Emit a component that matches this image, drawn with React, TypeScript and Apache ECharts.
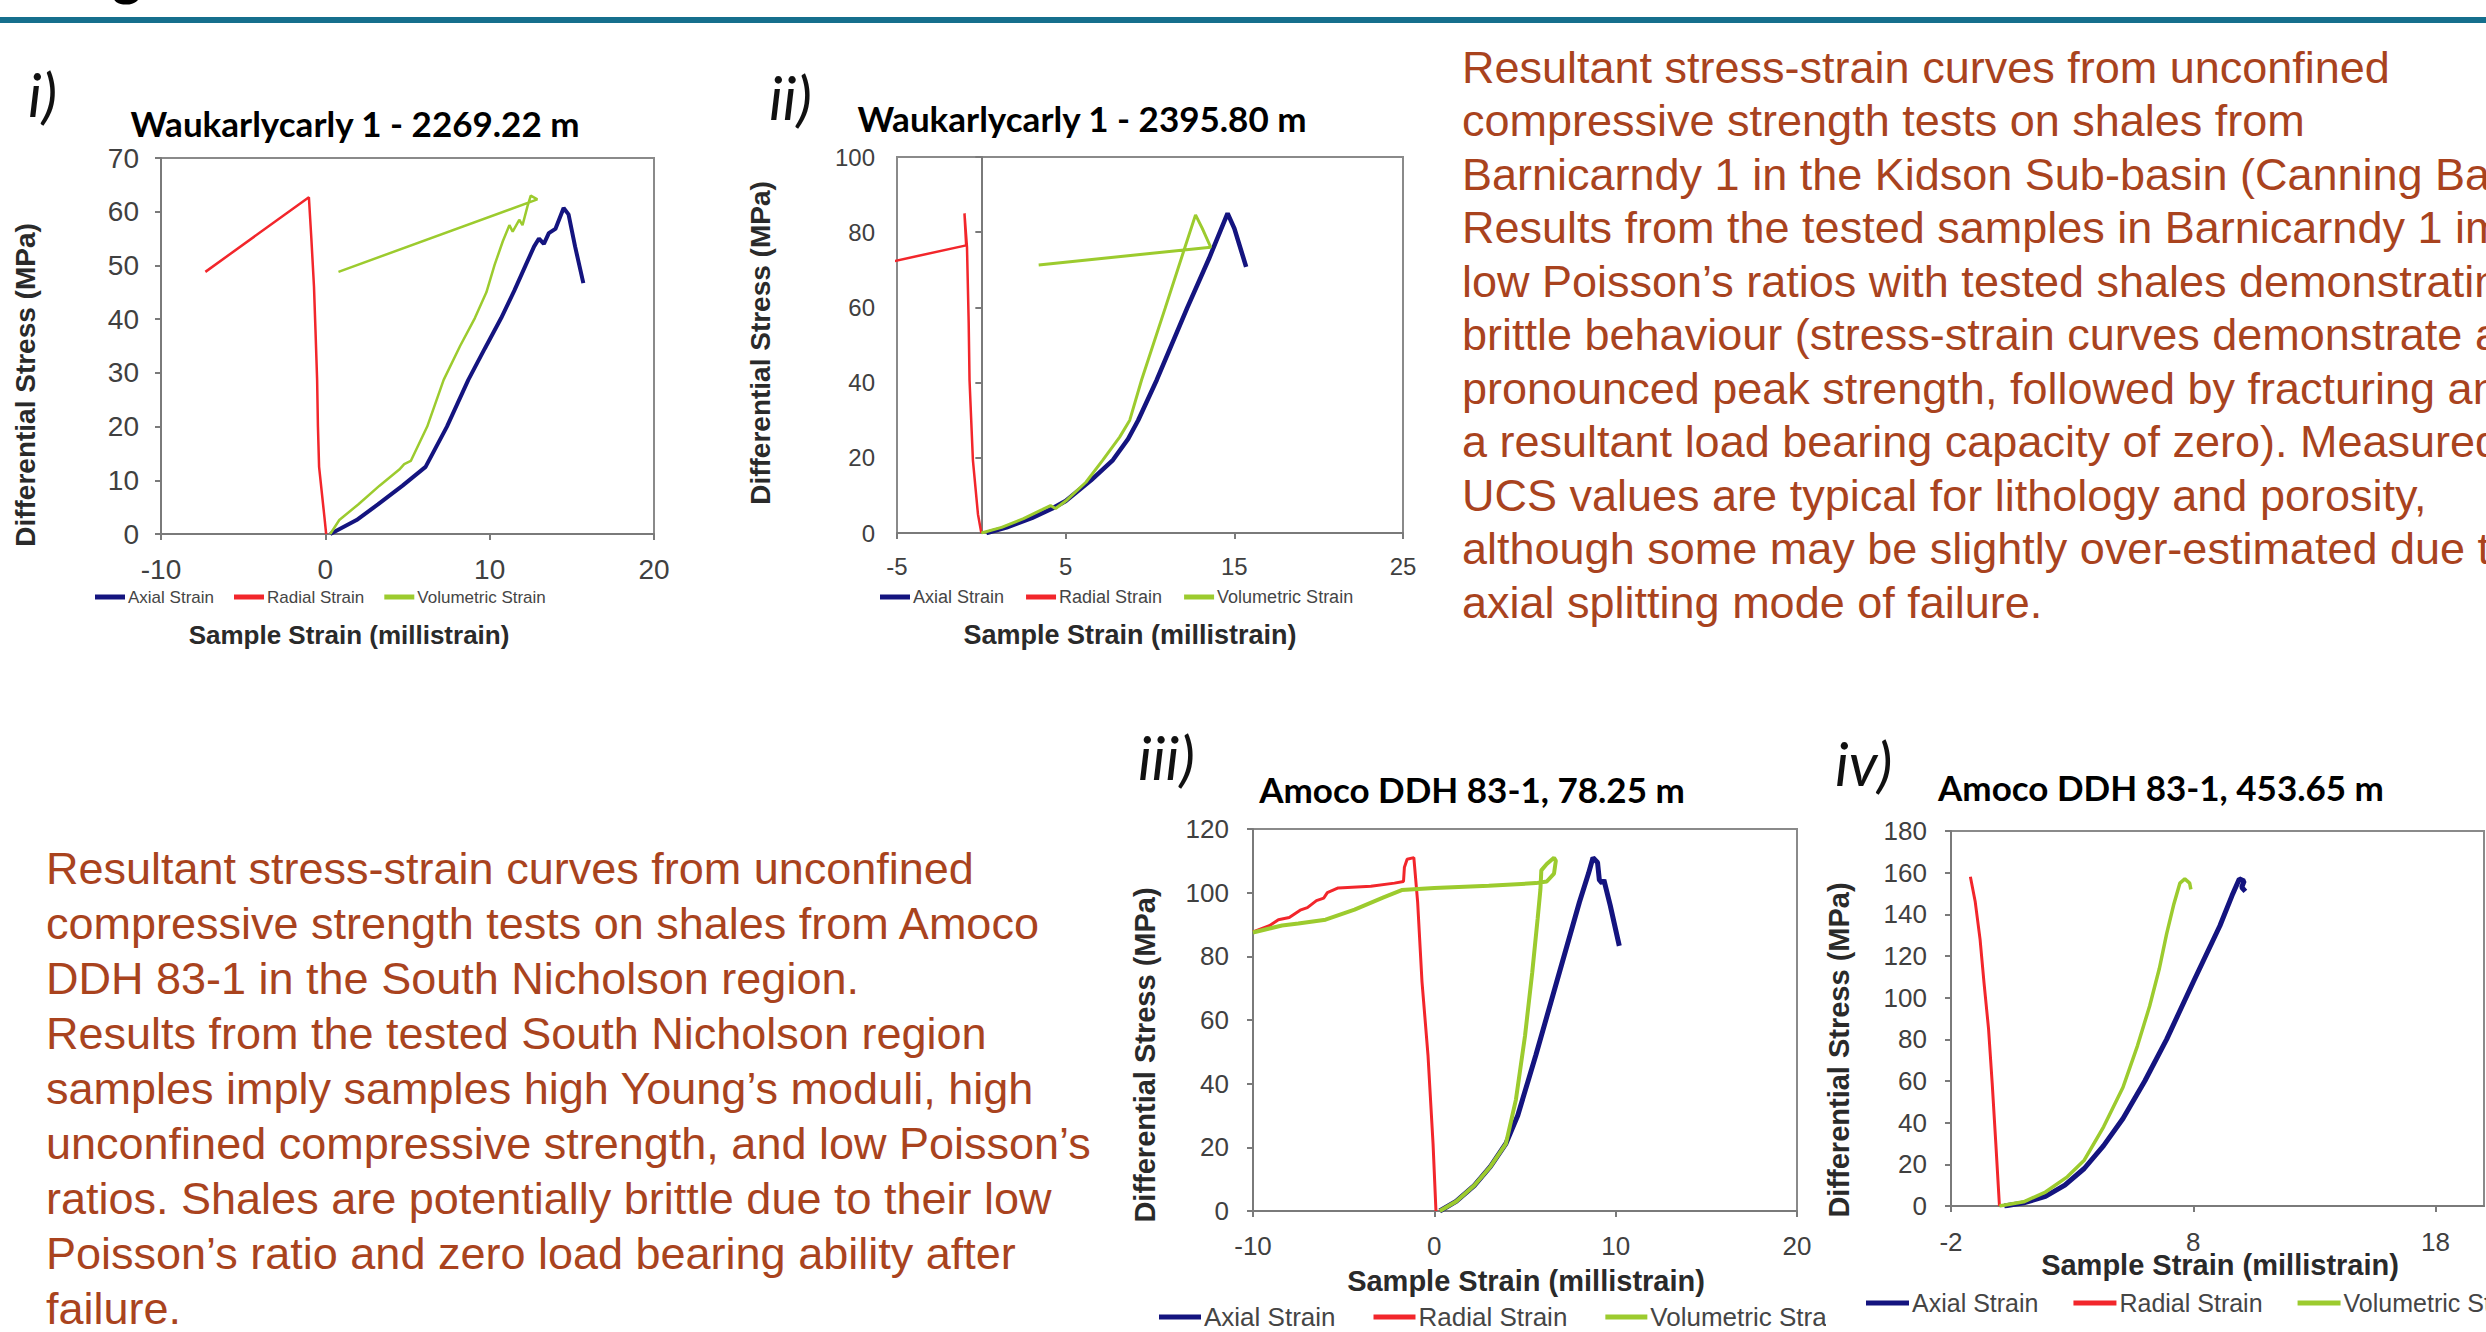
import React, { useEffect, useRef } from "react";
import * as echarts from "echarts";

// ---------- data ----------
const SERIES_NAMES = ["Axial Strain", "Radial Strain", "Volumetric Strain"];
const PANEL_TAGS = ["i)", "ii)", "iii)", "iv)"];
const PANEL_TITLES = [
  "Waukarlycarly 1 - 2269.22 m",
  "Waukarlycarly 1 - 2395.80 m",
  "Amoco DDH 83-1, 78.25 m",
  "Amoco DDH 83-1, 453.65 m",
];
const X_NAME = "Sample Strain (millistrain)";
const Y_NAME = "Differential Stress (MPa)";
const X_MIN = [-10, -5, -10, -2];
const X_MAX = [20, 25, 20, 20];
const Y_MAX = [70, 100, 120, 180];
const Y_STEP = [10, 20, 20, 20];
const X_TICKS = [
  [-10, 0, 10, 20],
  [-5, 5, 15, 25],
  [-10, 0, 10, 20],
  [-2, 8, 18],
];

// panel i
const axialI = [[0.3,0],[1.9,2.6],[3.2,5.5],[4.7,9],[6.1,12.5],[7.4,20],[8.7,28.7],[9.7,34.5],[10.7,40.2],[11.5,45.3],[12.2,50.1],[12.7,53.5],[13.0,55],[13.3,54],[13.6,56],[14.0,56.8],[14.5,60.7],[14.8,59.5],[15.2,53.5],[15.7,46.7]];
const radialI = [[0.05,0],[-0.05,3],[-0.38,12.5],[-0.45,20],[-0.5,28.7],[-0.6,38],[-0.69,46],[-0.85,55],[-1.0,62.7],[-7.3,48.8]];
const volumetricI = [[0.3,0],[0.85,2.6],[2.0,5.5],[3.3,9],[4.5,12],[4.8,13],[5.2,13.6],[6.2,20],[7.2,28.7],[8.2,35],[9.1,40.2],[9.8,45],[10.3,50.1],[10.8,54.5],[11.2,57.5],[11.4,56.3],[11.8,58.5],[12.0,57.5],[12.3,61],[12.5,63],[12.9,62.3],[0.8,48.8]];

// panel ii
const axialII = [[0.3,0],[1.5,1.5],[3,4],[4.2,6.5],[5.0,8.5],[6.5,14],[7.8,19.4],[8.7,25],[9.3,30],[10.4,40.7],[12.2,59.8],[13.5,73],[14.6,85],[15.0,81],[15.7,70.8]];
const radialII = [[0,0],[-0.2,5],[-0.5,19.4],[-0.6,30],[-0.7,40.7],[-0.75,56],[-0.85,76],[-1.0,85],[-0.9,76.5],[-6,71.5]];
const volumetricII = [[0,0],[1.2,1.5],[2.5,3.8],[3.6,6.2],[4.1,7.3],[4.4,6.5],[5.0,8.5],[6.2,13.5],[7.2,19.4],[8.2,25.5],[8.8,30],[9.5,40.7],[10.9,59.8],[12.0,75],[12.7,84.6],[13.1,81],[13.6,76],[3.4,71.3]];

// panel iii
const axialIII = [[0.3,0],[1.2,3],[2.2,8],[3.1,14],[3.95,21.2],[4.6,30],[5.6,49],[6.75,72],[8.0,97],[8.5,106],[8.75,111],[9.0,109.5],[9.1,104],[9.25,103],[9.35,104],[9.7,96],[10.2,83.3]];
const radialIII = [[0.09,0],[-0.07,21],[-0.35,49],[-0.68,72],[-0.92,97],[-1.13,111],[-1.5,110.5],[-1.65,108],[-1.7,103.5],[-2.2,103],[-3.5,102],[-5.3,101.5],[-5.9,100],[-6.1,98.3],[-6.5,97.5],[-7.0,95.3],[-7.4,94.5],[-8.0,92.2],[-8.6,91.5],[-9.1,89.6],[-10,87.7]];
const volumetricIII = [[0.3,0],[1.2,3],[2.2,8],[3.1,14],[3.95,21.2],[4.5,35],[5.0,55],[5.4,75],[5.7,92],[5.85,101],[5.9,107],[6.2,109],[6.6,111],[6.7,110],[6.6,106],[6.2,103.5],[5.6,103],[3,102.2],[0,101.5],[-1.8,100.8],[-2.8,98.5],[-4.4,94.7],[-6.0,91.5],[-7.5,90.3],[-8.4,89.7],[-10,87.5]];

// panel iv
const axialIV = [[0.2,0],[1,1.5],[1.9,4.6],[2.7,10],[3.5,18],[4.3,29],[5.1,42],[6.0,60],[6.9,80],[8.0,107.5],[9.1,134.5],[9.6,149],[9.9,157],[10.1,156],[10.0,153],[10.15,151]];
const radialIV = [[0,0],[-0.15,30],[-0.3,59],[-0.45,85],[-0.64,107.5],[-0.8,128],[-1.0,146],[-1.2,158]];
const volumetricIV = [[0,0],[1,2],[1.9,6.7],[2.8,14],[3.5,22],[4.3,38],[5.1,57],[5.7,77],[6.2,96],[6.6,114],[6.9,130.6],[7.2,145],[7.45,155],[7.65,157],[7.85,155],[7.9,152]];

const PANEL_DATA = [
  [axialI, radialI, volumetricI],
  [axialII, radialII, volumetricII],
  [axialIII, radialIII, volumetricIII],
  [axialIV, radialIV, volumetricIV],
];

const TOP_TEXT = [
  "Resultant stress-strain curves from unconfined",
  "compressive strength tests on shales from",
  "Barnicarndy 1 in the Kidson Sub-basin (Canning Basin).",
  "Results from the tested samples in Barnicarndy 1 imply",
  "low Poisson\u2019s ratios with tested shales demonstrating",
  "brittle behaviour (stress-strain curves demonstrate a",
  "pronounced peak strength, followed by fracturing and",
  "a resultant load bearing capacity of zero). Measured",
  "UCS values are typical for lithology and porosity,",
  "although some may be slightly over-estimated due to",
  "axial splitting mode of failure.",
];
const BOTTOM_TEXT = [
  "Resultant stress-strain curves from unconfined",
  "compressive strength tests on shales from Amoco",
  "DDH 83-1 in the South Nicholson region.",
  "Results from the tested South Nicholson region",
  "samples imply samples high Young\u2019s moduli, high",
  "unconfined compressive strength, and low Poisson\u2019s",
  "ratios. Shales are potentially brittle due to their low",
  "Poisson\u2019s ratio and zero load bearing ability after",
  "failure.",
];

// ---------- layout / style ----------
const COLORS = ["#14147f", "#f2262b", "#9ccb2e"];
const TEXT_RED = "#a9431e";
const SANS = '"Liberation Sans", Arial, sans-serif';
const TITLE_FONT = 'Lato, "Open Sans", sans-serif';

const LAYOUT = [
  { grid: { left: 161, top: 158, width: 493, height: 376 }, tick: 28, yMargin: 22, xMargin: 21, widths: [4, 2.5, 2.5],
    legend: { left: 95, y: 597, font: 17, iw: 30, gap: 20 }, xName: { x: 349, y: 635, font: 26 },
    yName: { x: 25, y: 385, font: 28 }, tag: { x: 28, y: 94 }, title: { x: 355, y: 123 } },
  { grid: { left: 897, top: 157, width: 506, height: 376 }, tick: 24, yMargin: 22, xMargin: 21, widths: [4.5, 2.5, 3],
    legend: { left: 880, y: 597, font: 18, iw: 30, gap: 22 }, xName: { x: 1130, y: 635, font: 27 },
    yName: { x: 760, y: 343, font: 28 }, tag: { x: 769, y: 97 }, title: { x: 1082, y: 118 } },
  { grid: { left: 1253, top: 829, width: 544, height: 382 }, tick: 26, yMargin: 24, xMargin: 22, widths: [5, 3, 4],
    legend: { left: 1159, y: 1317, font: 26, iw: 42, gap: 38 }, xName: { x: 1526, y: 1281, font: 29 },
    yName: { x: 1145, y: 1055, font: 29 }, tag: { x: 1138, y: 757 }, title: { x: 1472, y: 789 } },
  { grid: { left: 1951, top: 831, width: 533, height: 375 }, tick: 26, yMargin: 24, xMargin: 23, widths: [5, 3, 3.5],
    legend: { left: 1866, y: 1303, font: 25, iw: 43, gap: 35 }, xName: { x: 2220, y: 1265, font: 29 },
    yName: { x: 1839, y: 1050, font: 29 }, tag: { x: 1835, y: 763 }, title: { x: 2161, y: 787 } },
];

function txt(x: number, y: number, text: string, font: string, fill: string, align = "left", extra: any = {}) {
  return {
    type: "text",
    x,
    y,
    ...extra,
    style: { text, font, fill, align, textAlign: align, verticalAlign: "middle", textVerticalAlign: "middle" },
  };
}

function buildOption() {
  const grid: any[] = [];
  const xAxis: any[] = [];
  const yAxis: any[] = [];
  const series: any[] = [];
  const legend: any[] = [];
  const graphic: any[] = [];

  LAYOUT.forEach((L, p) => {
    grid.push({ ...L.grid, show: true, borderColor: "#8a8a8a", borderWidth: 2, backgroundColor: "#ffffff" });
    xAxis.push({
      type: "value",
      gridIndex: p,
      min: X_MIN[p],
      max: X_MAX[p],
      axisLine: { show: true, onZero: false, lineStyle: { color: "#7a7a7a", width: 2 } },
      axisTick: { show: true, customValues: X_TICKS[p], length: 6, lineStyle: { color: "#7a7a7a", width: 2 } },
      axisLabel: { customValues: X_TICKS[p], margin: L.xMargin, fontSize: L.tick, color: "#404040", fontFamily: SANS },
      splitLine: { show: false },
    });
    yAxis.push({
      type: "value",
      gridIndex: p,
      min: 0,
      max: Y_MAX[p],
      interval: Y_STEP[p],
      axisLine: { show: true, onZero: p === 1, lineStyle: { color: "#7a7a7a", width: 2 } },
      axisTick: { show: true, length: 6, lineStyle: { color: "#7a7a7a", width: 2 } },
      axisLabel: { margin: L.yMargin, fontSize: L.tick, color: "#404040", fontFamily: SANS },
      splitLine: { show: false },
    });
    PANEL_DATA[p].forEach((data, s) => {
      series.push({
        type: "line",
        name: SERIES_NAMES[s],
        xAxisIndex: p,
        yAxisIndex: p,
        data,
        showSymbol: false,
        symbol: "none",
        clip: true,
        z: s === 0 ? 3 : 4,
        lineStyle: { color: COLORS[s], width: L.widths[s] },
        itemStyle: { color: COLORS[s] },
      });
    });
    legend.push({
      left: L.legend.left,
      top: L.legend.y - L.legend.font / 2,
      width: 1200,
      padding: 0,
      orient: "horizontal",
      icon: "rect",
      itemWidth: L.legend.iw,
      itemHeight: 5,
      itemGap: L.legend.gap,
      selectedMode: false,
      data: SERIES_NAMES,
      textStyle: { fontSize: L.legend.font, color: "#454545", fontFamily: SANS, padding: [0, 0, 0, -2] },
    });

    graphic.push(txt(L.tag.x, L.tag.y, PANEL_TAGS[p], `italic 60px ${TITLE_FONT}`, "#111111"));
    graphic.push(txt(L.title.x, L.title.y, PANEL_TITLES[p], `bold 35px ${TITLE_FONT}`, "#000000", "center"));
    graphic.push(txt(L.xName.x, L.xName.y, X_NAME, `bold ${L.xName.font}px ${SANS}`, "#2a2a2a", "center"));
    graphic.push(txt(L.yName.x, L.yName.y, Y_NAME, `bold ${L.yName.font}px ${SANS}`, "#2a2a2a", "center", { rotation: Math.PI / 2 }));
  });

  // slide decorations
  graphic.push({ type: "rect", shape: { x: 0, y: 17, width: 2486, height: 6 }, style: { fill: "#156f8d" } });
  graphic.push(txt(112, -27, "g", `bold 56px ${TITLE_FONT}`, "#000000"));
  // chart iv picture overlaps the end of chart iii legend
  graphic.push({ type: "rect", z: 100, shape: { x: 1826, y: 1296, width: 26, height: 36 }, style: { fill: "#ffffff" } });

  TOP_TEXT.forEach((line, i) => graphic.push(txt(1462, 67 + i * 53.5, line, `45px ${SANS}`, TEXT_RED)));
  BOTTOM_TEXT.forEach((line, i) => graphic.push(txt(46, 868 + i * 55, line, `45px ${SANS}`, TEXT_RED)));

  return {
    animation: false,
    backgroundColor: "#ffffff",
    grid,
    xAxis,
    yAxis,
    series,
    legend,
    graphic: { elements: graphic },
  };
}

export default function App() {
  const ref = useRef<HTMLDivElement>(null);
  useEffect(() => {
    const chart = echarts.init(ref.current!, null, { renderer: "svg" });
    chart.setOption(buildOption() as any);
    return () => chart.dispose();
  }, []);
  return (
    <div
      ref={ref}
      style={{ position: "absolute", left: 0, top: 0, width: 2486, height: 1332, background: "#ffffff" }}
    />
  );
}
